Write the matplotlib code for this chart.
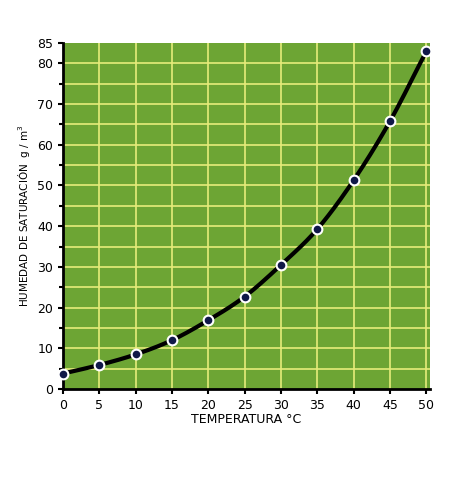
import matplotlib
matplotlib.use("Agg")
import matplotlib.pyplot as plt
import numpy as np

temps = [0, 5, 10, 15, 20, 25, 30, 35, 40, 45, 50]
humidity = [3.8, 5.9, 8.5, 12.0, 16.9, 22.7, 30.5, 39.3, 51.3, 65.8, 83.0]
xticks = [0, 5, 10, 15, 20, 25, 30, 35, 40, 45, 50]
yticks = [0, 10, 20, 30, 40, 50, 60, 70, 80, 85]


def catmull_rom(x, y, n=20):
    x = np.asarray(x, float); y = np.asarray(y, float)
    px = np.concatenate([[2*x[0]-x[1]], x, [2*x[-1]-x[-2]]])
    py = np.concatenate([[2*y[0]-y[1]], y, [2*y[-1]-y[-2]]])
    xs, ys = [], []
    for i in range(1, len(px)-2):
        t = np.linspace(0, 1, n, endpoint=False)
        for P, out in ((px, xs), (py, ys)):
            p0, p1, p2, p3 = P[i-1], P[i], P[i+1], P[i+2]
            out.extend(0.5*(2*p1 + (-p0+p2)*t + (2*p0-5*p1+4*p2-p3)*t**2 + (-p0+3*p1-3*p2+p3)*t**3))
    xs.append(x[-1]); ys.append(y[-1])
    return xs, ys


fig = plt.figure(figsize=(4.52, 4.84), dpi=100)
ax = fig.add_axes([63/452, 1-389/484, (430-63)/452, (389-43)/484])
ax.set_facecolor("#6da534")
ax.set_xlim(0, 50.5)
ax.set_ylim(0, 85)
for g in np.arange(5, 51, 5):
    ax.axvline(g, color="#e6ec7a", lw=1.2, zorder=1)
for g in np.arange(5, 85, 5):
    ax.axhline(g, color="#e6ec7a", lw=1.2, zorder=1)
sx, sy = catmull_rom(temps, humidity)
ax.plot(sx, sy, color="black", lw=3, zorder=2)
ax.plot(temps, humidity, "o", ms=7, mfc="#101848", mec="white", mew=1.5, zorder=3, clip_on=False)
ax.set_xticks(xticks)
ax.set_yticks(yticks)
ax.set_yticks(np.arange(0, 86, 5), minor=True)
ax.tick_params(axis="both", labelsize=9, width=1.5, direction="out")
ax.tick_params(axis="y", which="minor", length=3, width=1.5)
for s in ["top", "right"]:
    ax.spines[s].set_visible(False)
for s in ["left", "bottom"]:
    ax.spines[s].set_linewidth(2)
ax.set_xlabel("TEMPERATURA °C", fontsize=9, labelpad=1)
ax.set_ylabel("HUMEDAD DE SATURACIÓN  g / m$^3$", fontsize=7.5, labelpad=4)
fig.savefig("out.png", dpi=100)
